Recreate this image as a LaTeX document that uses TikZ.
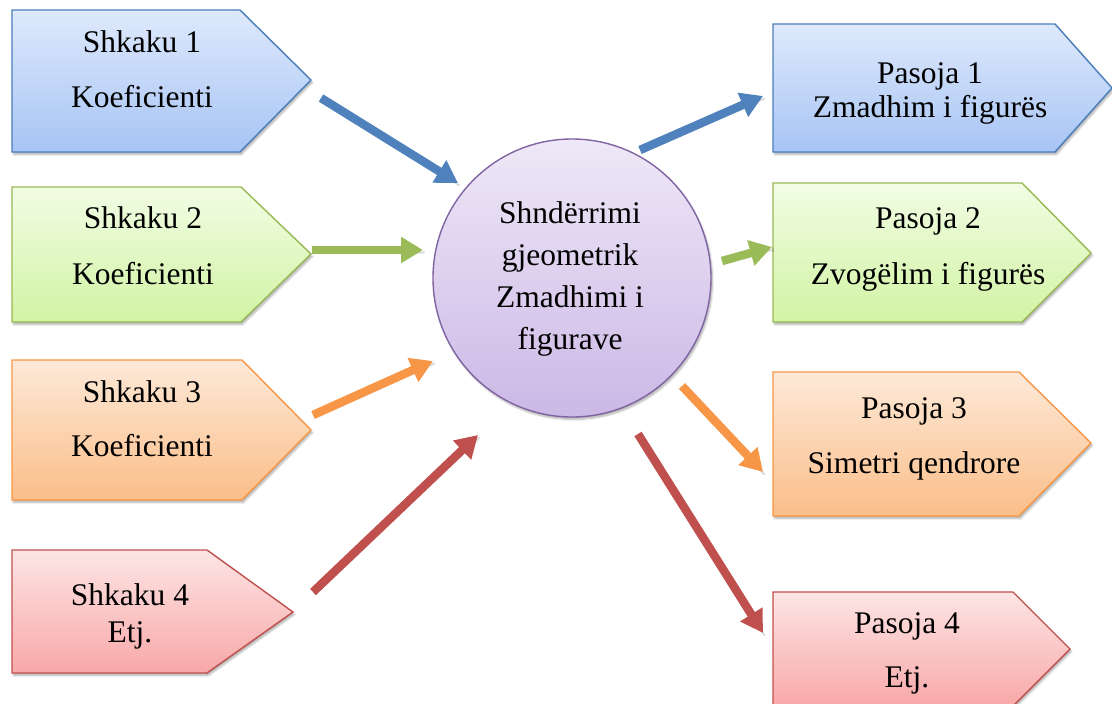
\documentclass[tikz,border=0pt]{standalone}
\usepackage{fontspec}
\setmainfont{Liberation Serif}
\usetikzlibrary{arrows.meta,shadows.blur}

\definecolor{blueline}{HTML}{4A7EBB}
\definecolor{bluetop}{HTML}{DEE9FC}
\definecolor{bluebot}{HTML}{A7C4F4}
\definecolor{bluearr}{HTML}{4F81BD}
\definecolor{greenline}{HTML}{98B954}
\definecolor{greentop}{HTML}{F1FDE4}
\definecolor{greenbot}{HTML}{D2F3A4}
\definecolor{greenarr}{HTML}{9BBB59}
\definecolor{orangeline}{HTML}{F79646}
\definecolor{orangetop}{HTML}{FDE9D8}
\definecolor{orangebot}{HTML}{FBBE89}
\definecolor{orangearr}{HTML}{F79646}
\definecolor{redline}{HTML}{C0504D}
\definecolor{redtop}{HTML}{FDE5E5}
\definecolor{redbot}{HTML}{F8A8A8}
\definecolor{redarr}{HTML}{C0504D}
\definecolor{purpleline}{HTML}{8064A2}
\definecolor{purpletop}{HTML}{EEE8F7}
\definecolor{purplebot}{HTML}{CBB8E6}

\tikzset{
  soft/.style={blur shadow={shadow blur steps=6, shadow xshift=1.5pt, shadow yshift=-2.5pt, shadow opacity=30}},
  tag/.style={soft, line width=1.4pt, line join=miter},
  bluetag/.style={tag, draw=blueline, top color=bluetop, bottom color=bluebot},
  greentag/.style={tag, draw=greenline, top color=greentop, bottom color=greenbot},
  orangetag/.style={tag, draw=orangeline, top color=orangetop, bottom color=orangebot},
  redtag/.style={tag, draw=redline, top color=redtop, bottom color=redbot},
  txt/.style={anchor=base, inner sep=0pt, font=\fontsize{31.5}{36}\selectfont},
  fat/.style={soft, line width=8.5pt, line cap=butt, -{Triangle[length=22pt,width=25pt]}},
}

\begin{document}
\begin{tikzpicture}[x=1pt,y=-1pt]
\useasboundingbox (0,0) rectangle (1112,704);

% causes (left column)
\draw[bluetag]   (12,10)  -- (240,10)  -- (311,80)  -- (240,152) -- (12,152) -- cycle;
\draw[greentag]  (12,187) -- (241,187) -- (311,254) -- (241,322) -- (12,322) -- cycle;
\draw[orangetag] (12,360) -- (242,360) -- (311,430) -- (242,500) -- (12,500) -- cycle;
\draw[redtag]    (12,550) -- (207,550) -- (293,612) -- (207,673) -- (12,673) -- cycle;

% consequences (right column)
\draw[bluetag]   (773,24)  -- (1055,24)  -- (1112,88)  -- (1055,152) -- (773,152) -- cycle;
\draw[greentag]  (773,183) -- (1022,183) -- (1091,253) -- (1022,322) -- (773,322) -- cycle;
\draw[orangetag] (773,372) -- (1019,372) -- (1091,443) -- (1019,516) -- (773,516) -- cycle;
\draw[redtag]    (773,592) -- (1013,592) -- (1070,649) -- (1013,706) -- (773,706) -- cycle;

% central circle
\node[circle, minimum size=278pt, inner sep=0pt, soft, line width=1.4pt,
      draw=purpleline, top color=purpletop, bottom color=purplebot] (c) at (572,278) {};

% labels
\node[txt] (s1a) at (142,52)  {Shkaku 1};
\node[txt] (s1b) at (142,107) {Koeficienti};
\node[txt] (s2a) at (143,228) {Shkaku 2};
\node[txt] (s2b) at (143,284) {Koeficienti};
\node[txt] (s3a) at (142,402) {Shkaku 3};
\node[txt] (s3b) at (142,456) {Koeficienti};
\node[txt] (s4a) at (130,605) {Shkaku 4};
\node[txt] (s4b) at (130,642) {Etj.};

\node[txt] (ca) at (570,223) {Shndërrimi};
\node[txt] (cb) at (570,265) {gjeometrik};
\node[txt] (cc) at (570,307) {Zmadhimi i};
\node[txt] (cd) at (570,349) {figurave};

\node[txt] (p1a) at (930,83)  {Pasoja 1};
\node[txt] (p1b) at (930,117) {Zmadhim i figurës};
\node[txt] (p2a) at (928,228) {Pasoja 2};
\node[txt] (p2b) at (928,284) {Zvogëlim i figurës};
\node[txt] (p3a) at (914,418) {Pasoja 3};
\node[txt] (p3b) at (914,473) {Simetri qendrore};
\node[txt] (p4a) at (907,633) {Pasoja 4};
\node[txt] (p4b) at (907,687) {Etj.};

% arrow end points
\coordinate (a1s) at (321,98);  \coordinate (a1e) at (458,183);
\coordinate (a2s) at (312,250); \coordinate (a2e) at (423,250);
\coordinate (a3s) at (313,415); \coordinate (a3e) at (433,361);
\coordinate (a4s) at (313,592); \coordinate (a4e) at (478,435);
\coordinate (b1s) at (640,150); \coordinate (b1e) at (763,96);
\coordinate (b2s) at (722,261); \coordinate (b2e) at (772,247);
\coordinate (b3s) at (682,386); \coordinate (b3e) at (763,472);
\coordinate (b4s) at (638,434); \coordinate (b4e) at (763,633);

\draw[fat, bluearr]   (a1s) -- (a1e);
\draw[fat, greenarr]  (a2s) -- (a2e);
\draw[fat, orangearr] (a3s) -- (a3e);
\draw[fat, redarr]    (a4s) -- (a4e);
\draw[fat, bluearr]   (b1s) -- (b1e);
\draw[fat, greenarr]  (b2s) -- (b2e);
\draw[fat, orangearr] (b3s) -- (b3e);
\draw[fat, redarr]    (b4s) -- (b4e);
\end{tikzpicture}
\end{document}
